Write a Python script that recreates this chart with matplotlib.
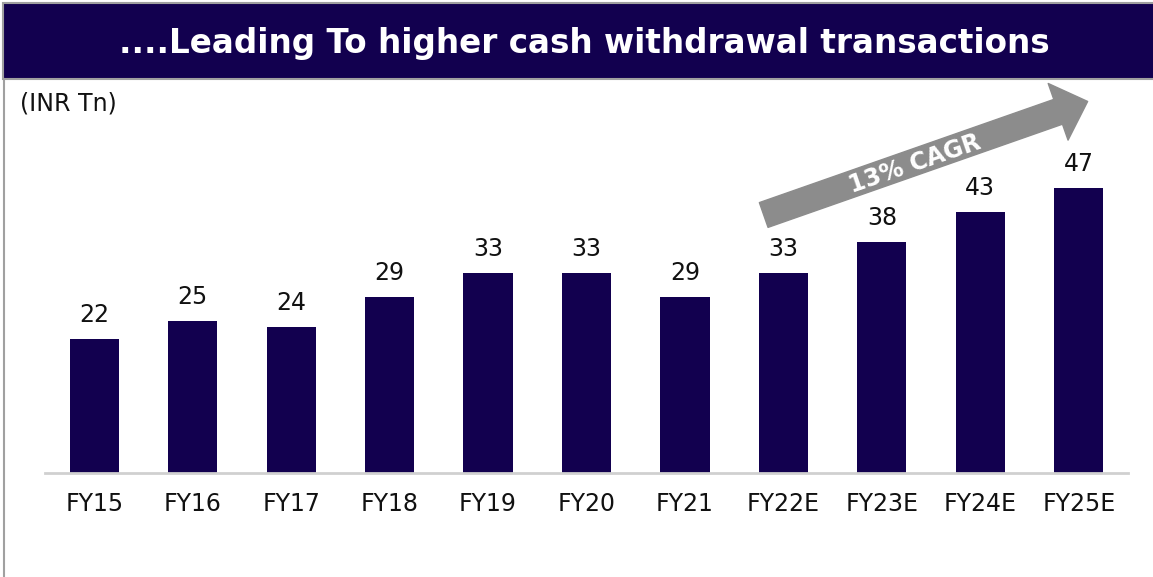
import matplotlib.pyplot as plt
from matplotlib.patches import Rectangle
from matplotlib.lines import Line2D

plt.rcParams['font.family'] = ['DejaVu Sans']

# data
years = ['FY15', 'FY16', 'FY17', 'FY18', 'FY19', 'FY20', 'FY21',
         'FY22E', 'FY23E', 'FY24E', 'FY25E']
values = [22, 25, 24, 29, 33, 33, 29, 33, 38, 43, 47]
title = '....Leading To higher cash withdrawal transactions'
unit = '(INR Tn)'
cagr = '13% CAGR'

navy = '#12004f'

fig = plt.figure(figsize=(11.53, 5.77), dpi=100)

# title bar
fig.patches.append(Rectangle((3 / 1153, 1 - 79 / 577), 1.0, 76 / 577,
                             transform=fig.transFigure, facecolor=navy,
                             edgecolor='#a0a0a0', linewidth=1.5))
fig.text(584 / 1153, 1 - 43 / 577, title, color='white', fontsize=23.5,
         fontweight='bold', ha='center', va='center')
# left border line
fig.lines.append(Line2D([3.5 / 1153, 3.5 / 1153], [0, 1 - 79 / 577],
                        transform=fig.transFigure, color='#a0a0a0', lw=1.5))
fig.text(20 / 1153, 1 - 104 / 577, unit, fontsize=17, ha='left', va='center',
         color='#111111')

ax = fig.add_axes([45 / 1153, 104 / 577, 1083 / 1153, 394 / 577])
x = range(len(years))
ax.bar(x, values, width=0.5, color=navy)
for i, v in enumerate(values):
    ax.text(i, v + 2.0, str(v), ha='center', va='bottom', fontsize=17,
            color='#111111')

ax.set_xlim(-0.5, len(years) - 0.5)
ax.set_ylim(0, 64.9)
ax.set_xticks(list(x))
ax.set_xticklabels(years, fontsize=17, color='#111111')
ax.tick_params(axis='x', length=0, pad=14)
ax.set_yticks([])
for s in ['top', 'right', 'left']:
    ax.spines[s].set_visible(False)
ax.spines['bottom'].set_color('#d0d0d0')
ax.spines['bottom'].set_linewidth(2)

# CAGR arrow
ax.annotate('', xy=(10.09, 61.2), xytext=(6.8, 42.5),
            arrowprops=dict(arrowstyle='simple,head_length=1.25,head_width=2.4,tail_width=1.05',
                            mutation_scale=18, color='#8c8c8c',
                            shrinkA=0, shrinkB=0),
            annotation_clip=False)
ax.text(8.33, 50.9, cagr, rotation=19, color='white', fontsize=17,
        fontweight='bold', ha='center', va='center', rotation_mode='anchor')

fig.savefig('out.png', dpi=100)
